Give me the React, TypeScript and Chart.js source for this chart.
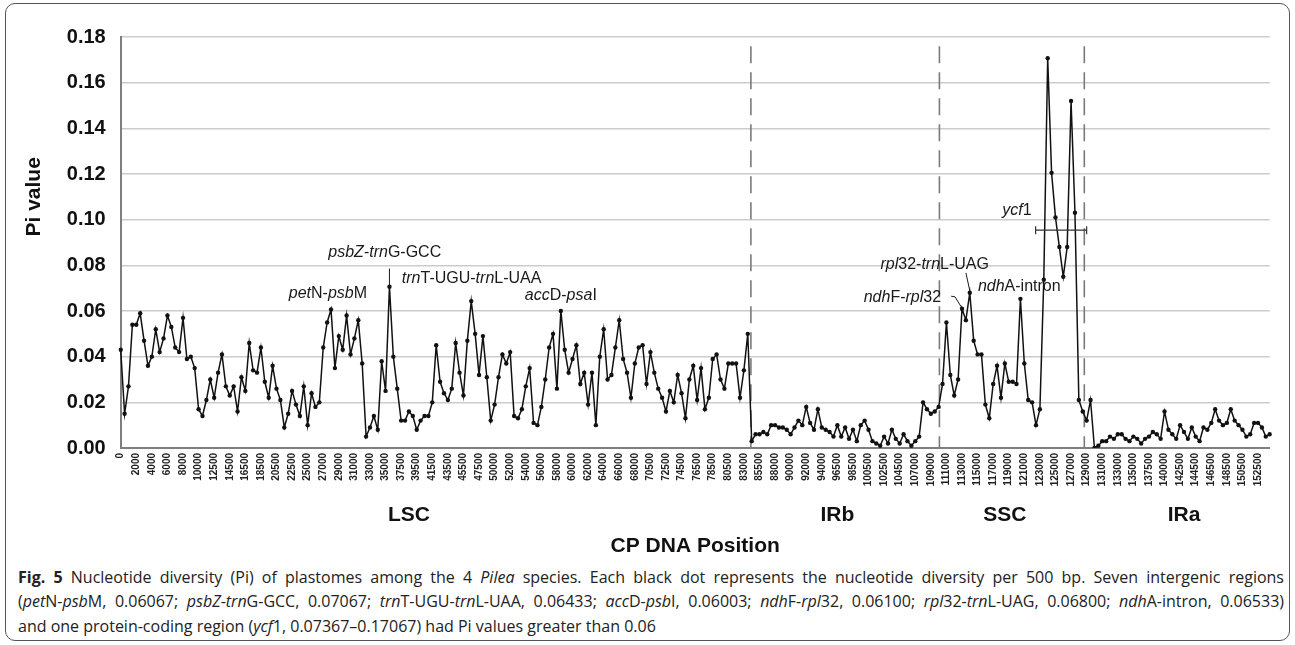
import React, { useEffect, useRef } from "react";
import { Chart, registerables } from "chart.js";

Chart.register(...registerables);

// ---------- DATA ----------
const tickLabels = [
  "0", "2000", "4000", "6000", "8000", "10000", "12500", "14500", "16500", "18500",
  "20500", "22500", "25000", "27000", "29000", "31000", "33000", "35000", "37500", "39500",
  "41500", "43500", "45500", "47500", "50000", "52000", "54000", "56000", "58000", "60000",
  "62000", "64000", "66000", "68000", "70500", "72500", "74500", "76500", "78500", "80500",
  "83000", "85500", "88000", "90000", "92000", "94000", "96500", "98500", "100500", "102500",
  "104500", "107000", "109000", "111000", "113000", "115000", "117000", "119000", "121000", "123000",
  "125000", "127000", "129000", "131000", "133000", "135000", "137500", "140000", "142500", "144500",
  "146500", "148500", "150500", "152500",
];

const lscValues = [
  0.043, 0.015, 0.027, 0.054, 0.054, 0.059, 0.047, 0.036, 0.040, 0.052,
  0.042, 0.048, 0.058, 0.053, 0.044, 0.042, 0.057, 0.039, 0.040, 0.035,
  0.017, 0.014, 0.021, 0.030, 0.022, 0.033, 0.041, 0.027, 0.023, 0.027,
  0.016, 0.031, 0.025, 0.046, 0.034, 0.033, 0.044, 0.029, 0.022, 0.036,
  0.026, 0.021, 0.009, 0.015, 0.025, 0.019, 0.014, 0.027, 0.010, 0.024,
  0.018, 0.020, 0.044, 0.055, 0.06067, 0.035, 0.049, 0.043, 0.058, 0.041,
  0.048, 0.056, 0.037, 0.005, 0.009, 0.014, 0.008, 0.038, 0.025, 0.07067,
  0.040, 0.026, 0.012, 0.012, 0.016, 0.014, 0.008, 0.012, 0.014, 0.014,
  0.020, 0.045, 0.029, 0.024, 0.021, 0.026, 0.046, 0.033, 0.023, 0.047,
  0.06433, 0.050, 0.032, 0.049, 0.031, 0.012, 0.019, 0.031, 0.041, 0.037,
  0.042, 0.014, 0.013, 0.017, 0.027, 0.035, 0.011, 0.010, 0.018, 0.030,
  0.044, 0.050, 0.026, 0.06003, 0.043, 0.033, 0.039, 0.045, 0.028, 0.033,
  0.019, 0.033, 0.010, 0.040, 0.052, 0.030, 0.032, 0.044, 0.056, 0.039,
  0.033, 0.022, 0.037, 0.044, 0.045, 0.028, 0.042, 0.033, 0.026, 0.022,
  0.016, 0.025, 0.020, 0.032, 0.024, 0.013, 0.030, 0.036, 0.021, 0.035,
  0.017, 0.022, 0.039, 0.041, 0.030, 0.026, 0.037, 0.037, 0.037, 0.022,
  0.034, 0.050,
];

const irbValues = [
  0.003, 0.006, 0.006, 0.007, 0.006, 0.010, 0.010, 0.009, 0.009, 0.008,
  0.006, 0.009, 0.012, 0.010, 0.018, 0.011, 0.008, 0.017, 0.009, 0.008,
  0.007, 0.005, 0.010, 0.005, 0.009, 0.004, 0.008, 0.003, 0.010, 0.012,
  0.008, 0.003, 0.002, 0.001, 0.005, 0.002, 0.008, 0.004, 0.002, 0.006,
  0.003, 0.001, 0.003, 0.005, 0.020, 0.017, 0.015, 0.016, 0.018,
];

const sscValues = [
  0.028, 0.055, 0.032, 0.023, 0.030, 0.061, 0.056, 0.068, 0.047, 0.041,
  0.041, 0.019, 0.013, 0.028, 0.036, 0.022, 0.037, 0.029, 0.029, 0.028,
  0.06533, 0.037, 0.021, 0.020, 0.010, 0.017, 0.07367, 0.17067, 0.1205, 0.101,
  0.088, 0.075, 0.088, 0.152, 0.103,
];

const iraValues = [
  0.021, 0.016, 0.012, 0.021, 0.000, 0.001, 0.003, 0.003, 0.005, 0.004,
  0.006, 0.006, 0.004, 0.003, 0.005, 0.004, 0.002, 0.004, 0.005, 0.007,
  0.006, 0.004, 0.016, 0.008, 0.006, 0.004, 0.010, 0.007, 0.004, 0.009,
  0.005, 0.003, 0.009, 0.008, 0.011, 0.017, 0.012, 0.010, 0.011, 0.017,
  0.012, 0.010, 0.008, 0.005, 0.006, 0.011, 0.011, 0.009, 0.005, 0.006,
];

const piValues = [...lscValues, ...irbValues, ...sscValues, ...iraValues];

// region boundaries (category index) and region label centres
const boundaryIndex = [161.8, 210.2, 247.4];
const regionNames = ["LSC", "IRb", "SSC", "IRa"];
const regionLabelIndex = [74, 184, 227, 273];

// annotations: text runs [text, italic], centre index, centre value
type Run = [string, boolean];
const annotations: { runs: Run[]; x: number; y: number }[] = [
  { runs: [["pet", true], ["N-", false], ["psb", true], ["M", false]], x: 53.2, y: 0.0675 },
  { runs: [["psbZ", true], ["-", false], ["trn", true], ["G-GCC", false]], x: 67.8, y: 0.0855 },
  { runs: [["trn", true], ["T-UGU-", false], ["trn", true], ["L-UAA", false]], x: 90.1, y: 0.0744 },
  { runs: [["acc", true], ["D-", false], ["psa", true], ["I", false]], x: 113.0, y: 0.0669 },
  { runs: [["ndh", true], ["F-", false], ["rpl", true], ["32", false]], x: 200.7, y: 0.0658 },
  { runs: [["rpl", true], ["32-", false], ["trn", true], ["L-UAG", false]], x: 209.0, y: 0.0805 },
  { runs: [["ndh", true], ["A-intron", false]], x: 230.7, y: 0.0706 },
  { runs: [["ycf", true], ["1", false]], x: 230.1, y: 0.104 },
];
// leader lines: [index, value] polylines
const leaders: [number, number][][] = [
  [[69, 0.0786], [69, 0.07067]],
  [[213.2, 0.0665], [214.2, 0.0662], [215.8, 0.0618]],
  [[217.0, 0.0767], [218.0, 0.0689]],
];
const ycf1Range = { from: 234.9, to: 248.0, value: 0.0954 };

const categories = piValues.map((_, i) => (i % 4 === 0 && tickLabels[i / 4] ? tickLabels[i / 4] : ""));

const FONT = "'Liberation Sans', Arial, Helvetica, sans-serif";

function drawRuns(ctx: CanvasRenderingContext2D, runs: Run[], cx: number, cy: number, size: number) {
  const widths = runs.map(([t, it]) => {
    ctx.font = `${it ? "italic " : ""}${size}px ${FONT}`;
    return ctx.measureText(t).width;
  });
  const total = widths.reduce((a, b) => a + b, 0);
  let x = cx - total / 2;
  ctx.textAlign = "left";
  ctx.textBaseline = "middle";
  runs.forEach(([t, it], i) => {
    ctx.font = `${it ? "italic " : ""}${size}px ${FONT}`;
    ctx.fillText(t, x, cy);
    x += widths[i];
  });
}

const overlayPlugin = {
  id: "overlay",
  beforeDatasetsDraw(chart: any) {
    const { ctx, scales } = chart;
    const xs = scales.x;
    const ys = scales.y;
    ctx.save();
    ctx.strokeStyle = "#7a7a7a";
    ctx.lineWidth = 1.6;
    ctx.setLineDash([17, 9]);
    boundaryIndex.forEach((b) => {
      const px = xs.getPixelForValue(b);
      ctx.beginPath();
      ctx.moveTo(px, ys.getPixelForValue(0.176));
      ctx.lineTo(px, ys.getPixelForValue(0));
      ctx.stroke();
    });
    ctx.restore();
  },
  afterDatasetsDraw(chart: any) {
    const { ctx, scales } = chart;
    const xs = scales.x;
    const ys = scales.y;
    ctx.save();
    ctx.fillStyle = "#1a1a1a";
    annotations.forEach((a) => {
      drawRuns(ctx, a.runs, xs.getPixelForValue(a.x), ys.getPixelForValue(a.y), 16);
    });
    ctx.strokeStyle = "#1a1a1a";
    ctx.lineWidth = 1;
    leaders.forEach((pts) => {
      ctx.beginPath();
      pts.forEach(([i, v], k) => {
        const px = xs.getPixelForValue(i);
        const py = ys.getPixelForValue(v);
        if (k === 0) ctx.moveTo(px, py);
        else ctx.lineTo(px, py);
      });
      ctx.stroke();
    });
    // ycf1 range bar
    const x1 = xs.getPixelForValue(ycf1Range.from);
    const x2 = xs.getPixelForValue(ycf1Range.to);
    const yb = ys.getPixelForValue(ycf1Range.value);
    ctx.strokeStyle = "#333";
    ctx.lineWidth = 1.2;
    ctx.beginPath();
    ctx.moveTo(x1, yb);
    ctx.lineTo(x2, yb);
    ctx.moveTo(x1, yb - 4);
    ctx.lineTo(x1, yb + 4);
    ctx.moveTo(x2, yb - 4);
    ctx.lineTo(x2, yb + 4);
    ctx.stroke();

    // region labels
    ctx.fillStyle = "#111";
    ctx.textAlign = "center";
    ctx.textBaseline = "middle";
    ctx.font = `bold 21px ${FONT}`;
    regionNames.forEach((n, i) => {
      ctx.fillText(n, xs.getPixelForValue(regionLabelIndex[i]), 515);
    });
    // x title
    ctx.font = `bold 21px ${FONT}`;
    ctx.fillText("CP DNA Position", (chart.chartArea.left + chart.chartArea.right) / 2, 546);
    // y title
    ctx.translate(34, ys.getPixelForValue(0.11));
    ctx.rotate(-Math.PI / 2);
    ctx.font = `bold 21px ${FONT}`;
    ctx.fillText("Pi value", 0, 0);
    ctx.restore();
  },
};

export default function App() {
  const ref = useRef<HTMLCanvasElement>(null);
  useEffect(() => {
    document.body.style.margin = "0";
    const chart = new Chart(ref.current!, {
      type: "line",
      data: {
        labels: categories,
        datasets: [
          {
            data: piValues,
            borderColor: "#111",
            backgroundColor: "#111",
            borderWidth: 1.5,
            pointRadius: 2.2,
            pointHoverRadius: 2.2,
            pointBorderWidth: 0,
            tension: 0,
          },
        ],
      },
      options: {
        responsive: false,
        animation: false,
        devicePixelRatio: 1,
        layout: { padding: { left: 0, right: 25.3, top: 37, bottom: 0 } },
        plugins: { legend: { display: false }, tooltip: { enabled: false } },
        scales: {
          x: {
            type: "category",
            offset: false,
            grid: { display: false, drawTicks: false },
            border: { display: true, color: "#7f7f7f", width: 2 },
            ticks: {
              autoSkip: false,
              maxRotation: 90,
              minRotation: 90,
              padding: 5,
              color: "#222",
              font: { family: FONT, size: 10, weight: "bold" },
            },
            afterFit: (s: any) => {
              s.height = 560 - 448;
            },
          },
          y: {
            min: 0,
            max: 0.18,
            grid: { color: "#cccccc", lineWidth: 1.6, drawTicks: false },
            border: { display: true, color: "#7f7f7f", width: 2 },
            ticks: {
              stepSize: 0.02,
              padding: 15,
              color: "#111",
              font: { family: FONT, size: 20, weight: "bold" },
              callback: (v: any) => Number(v).toFixed(2),
            },
            afterFit: (s: any) => {
              s.width = 120.7;
            },
          },
        },
      },
      plugins: [overlayPlugin],
    });
    return () => chart.destroy();
  }, []);

  const capFont = "'Open Sans', 'Noto Sans', sans-serif";
  const lineStyle: React.CSSProperties = {
    position: "absolute",
    left: 18,
    width: 1266,
    height: 24,
    lineHeight: "24px",
    fontFamily: capFont,
    fontSize: 16,
    color: "#222",
    whiteSpace: "nowrap",
  };
  const just: React.CSSProperties = { textAlign: "justify", textAlignLast: "justify" as any, whiteSpace: "normal" };
  return (
    <div style={{ position: "absolute", left: 0, top: 0, width: 1295, height: 645, background: "#fff", overflow: "hidden" }}>
      <div
        style={{
          position: "absolute",
          left: 5,
          top: 3,
          width: 1285,
          height: 638,
          border: "1.5px solid #555",
          borderRadius: 10,
          boxSizing: "border-box",
        }}
      />
      <canvas ref={ref} width={1295} height={560} style={{ position: "absolute", left: 0, top: 0 }} />
      <div style={{ ...lineStyle, ...just, top: 565 }}>
        <b>Fig. 5</b> Nucleotide diversity (Pi) of plastomes among the 4 <i>Pilea</i> species. Each black dot represents the nucleotide diversity per 500 bp. Seven intergenic regions
      </div>
      <div style={{ ...lineStyle, ...just, top: 589 }}>
        (<i>pet</i>N-<i>psb</i>M, 0.06067; <i>psbZ</i>-<i>trn</i>G-GCC, 0.07067; <i>trn</i>T-UGU-<i>trn</i>L-UAA, 0.06433; <i>acc</i>D-<i>psb</i>I, 0.06003; <i>ndh</i>F-<i>rpl</i>32, 0.06100; <i>rpl</i>32-<i>trn</i>L-UAG, 0.06800; <i>ndh</i>A-intron, 0.06533)
      </div>
      <div style={{ ...lineStyle, top: 614 }}>
        and one protein-coding region (<i>ycf</i>1, 0.07367–0.17067) had Pi values greater than 0.06
      </div>
    </div>
  );
}
